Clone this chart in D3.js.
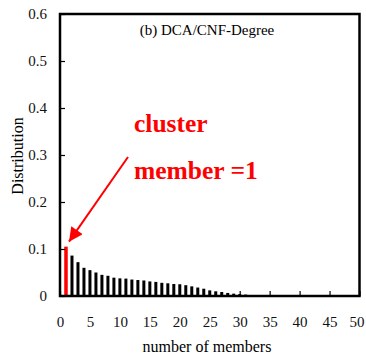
<!DOCTYPE html>
<html>
<head>
<meta charset="utf-8">
<script src="https://cdn.jsdelivr.net/npm/d3@7"></script>
<style>
  html, body { margin: 0; padding: 0; background: #fff; }
  svg { display: block; font-family: "Liberation Serif", "Times New Roman", serif; }
</style>
</head>
<body>
<svg id="chart" width="366" height="358"></svg>
<script>
// Cluster sizes (number of members) and their share of all clusters
const members = [1, 2, 3, 4, 5, 6, 7, 8, 9, 10, 11, 12, 13, 14, 15, 16, 17, 18, 19, 20,
                 21, 22, 23, 24, 25, 26, 27, 28, 29, 30, 31, 32, 33];
const distribution = [0.105, 0.086, 0.072, 0.060, 0.055, 0.050, 0.045, 0.043, 0.039, 0.0375,
                      0.037, 0.035, 0.034, 0.033, 0.031, 0.030, 0.028, 0.027, 0.0255, 0.025,
                      0.023, 0.0205, 0.018, 0.0155, 0.012, 0.010, 0.0085, 0.0065, 0.005, 0.004,
                      0.003, 0.002, 0.002];
const xTicks = [0, 5, 10, 15, 20, 25, 30, 35, 40, 45, 50];
const yTicks = [0, 0.1, 0.2, 0.3, 0.4, 0.5, 0.6];
const highlighted = 1;

const svg = d3.select("#chart");
const plotLeft = 60, plotRight = 359.5, plotTop = 14, plotBottom = 296;

const x = d3.scaleLinear().domain([0, 50]).range([plotLeft, plotRight]);
const y = d3.scaleLinear().domain([0, 0.6]).range([plotBottom, plotTop]);

// Bars
const data = members.map((m, i) => ({ m, v: distribution[i] }));
svg.append("g").selectAll("rect").data(data).join("rect")
  .attr("x", d => x(d.m) - (d.m === highlighted ? 1.75 : 1.5))
  .attr("width", d => d.m === highlighted ? 3.5 : 3)
  .attr("y", d => y(d.v))
  .attr("height", d => y(0) - y(d.v))
  .attr("fill", d => d.m === highlighted ? "#ff0000" : "#000");

// Axes with inward ticks
const xAxis = svg.append("g").attr("transform", `translate(0,${plotBottom})`)
  .call(d3.axisBottom(x).tickValues(xTicks).tickFormat(d3.format("d"))
        .tickSize(-5).tickPadding(20));
const yAxis = svg.append("g").attr("transform", `translate(${plotLeft},0)`)
  .call(d3.axisLeft(y).tickValues(yTicks).tickFormat(d => d === 0 ? "0" : d3.format(".1f")(d))
        .tickSize(-5).tickPadding(13));

[xAxis, yAxis].forEach(g => {
  g.select(".domain").remove();
  g.selectAll(".tick line").attr("stroke", "#000").attr("stroke-width", 1.2);
  g.selectAll(".tick text").attr("font-size", 15).attr("fill", "#111")
    .attr("font-family", "Liberation Serif, Times New Roman, serif");
});
// keep the last x label inside the page edge
xAxis.selectAll(".tick text").filter(d => d === 50).attr("dx", "-0.2em");

// Frame around the plot area
svg.append("rect")
  .attr("x", plotLeft).attr("y", plotTop)
  .attr("width", plotRight - plotLeft).attr("height", plotBottom - plotTop)
  .attr("fill", "none").attr("stroke", "#000").attr("stroke-width", 2.5);

// Panel title
svg.append("text")
  .attr("x", 207).attr("y", 35)
  .attr("text-anchor", "middle")
  .attr("font-size", 15)
  .text("(b) DCA/CNF-Degree");

// Axis titles
svg.append("text")
  .attr("x", 207).attr("y", 352)
  .attr("text-anchor", "middle")
  .attr("font-size", 16)
  .text("number of members");

svg.append("text")
  .attr("transform", "translate(23,156) rotate(-90)")
  .attr("text-anchor", "middle")
  .attr("font-size", 16)
  .text("Distribution");

// Annotation pointing at the single-member clusters
svg.append("defs").append("marker")
  .attr("id", "arrowhead")
  .attr("viewBox", "0 0 10 10")
  .attr("refX", 10).attr("refY", 5)
  .attr("markerWidth", 8).attr("markerHeight", 7)
  .attr("markerUnits", "strokeWidth")
  .attr("orient", "auto")
  .append("path").attr("d", "M0,0 L10,5 L0,10 Z").attr("fill", "#ff0000");

const tip = { x: x(highlighted) + 3, y: y(distribution[0]) - 5 };
svg.append("line")
  .attr("x1", 128).attr("y1", 157)
  .attr("x2", tip.x).attr("y2", tip.y)
  .attr("stroke", "#ff0000").attr("stroke-width", 2)
  .attr("marker-end", "url(#arrowhead)");

const note = svg.append("g")
  .attr("fill", "#ff0000")
  .attr("font-weight", "bold")
  .attr("font-size", 25.5);
note.append("text").attr("x", 134).attr("y", 132).text("cluster");
note.append("text").attr("x", 134).attr("y", 179).text("member =1");
</script>
</body>
</html>
